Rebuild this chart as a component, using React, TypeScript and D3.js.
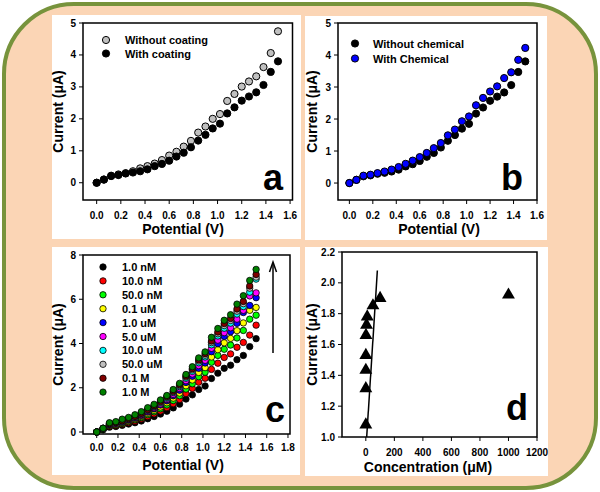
import React from "react";
import * as d3 from "d3";

// ---------- DATA ----------
const potential = [0.0, 0.06, 0.12, 0.18, 0.24, 0.3, 0.36, 0.42, 0.48, 0.54, 0.6, 0.66, 0.72, 0.78, 0.84, 0.9, 0.96, 1.02, 1.08, 1.14, 1.2, 1.26, 1.32, 1.38, 1.44, 1.5];

const aWithoutCoating = [0, 0.1, 0.22, 0.26, 0.3, 0.36, 0.45, 0.52, 0.6, 0.71, 0.85, 0.97, 1.13, 1.31, 1.57, 1.76, 2.0, 2.15, 2.56, 2.78, 3.01, 3.17, 3.33, 3.62, 4.06, 4.74];
const aWithCoating = [0, 0.1, 0.21, 0.24, 0.29, 0.32, 0.36, 0.42, 0.52, 0.59, 0.69, 0.82, 0.94, 1.11, 1.32, 1.5, 1.7, 1.85, 2.17, 2.36, 2.57, 2.7, 2.83, 3.06, 3.47, 3.8];

const bWithoutChemical = [0, 0.1, 0.21, 0.24, 0.29, 0.32, 0.36, 0.42, 0.52, 0.59, 0.69, 0.82, 0.94, 1.11, 1.32, 1.5, 1.7, 1.85, 2.17, 2.36, 2.57, 2.7, 2.83, 3.06, 3.47, 3.8];
const bWithChemical = [0, 0.1, 0.23, 0.26, 0.31, 0.36, 0.42, 0.5, 0.6, 0.7, 0.81, 0.94, 1.09, 1.25, 1.49, 1.67, 1.93, 2.08, 2.43, 2.66, 2.86, 3.02, 3.28, 3.46, 3.85, 4.22];

const cLabels = ["1.0 nM", "10.0 nM", "50.0 nM", "0.1 uM", "1.0 uM", "5.0 uM", "10.0 uM", "50.0 uM", "0.1 M", "1.0 M"];
const cColors = ["#000000", "#ff0000", "#00ff00", "#ffff00", "#0000ff", "#ff00ff", "#00ffff", "#c0c0c0", "#800000", "#008000"];
const c1nM = [0, 0.1, 0.22, 0.25, 0.3, 0.36, 0.42, 0.5, 0.6, 0.7, 0.81, 0.94, 1.09, 1.26, 1.49, 1.68, 1.92, 2.08, 2.42, 2.66, 2.88, 3.02, 3.27, 3.46, 3.86, 4.22];
const c10nM = [0, 0.12, 0.26, 0.29, 0.35, 0.42, 0.49, 0.59, 0.7, 0.82, 0.95, 1.1, 1.28, 1.47, 1.74, 1.97, 2.25, 2.43, 2.83, 3.11, 3.37, 3.53, 3.83, 4.05, 4.38, 4.83];
const c50nM = [0, 0.13, 0.29, 0.33, 0.39, 0.47, 0.55, 0.65, 0.78, 0.91, 1.05, 1.22, 1.42, 1.64, 1.94, 2.18, 2.5, 2.7, 3.15, 3.46, 3.74, 3.93, 4.25, 4.59, 5.1, 5.28];
const c01uM = [0, 0.14, 0.31, 0.35, 0.42, 0.5, 0.59, 0.7, 0.84, 0.98, 1.13, 1.32, 1.53, 1.76, 2.09, 2.35, 2.69, 2.91, 3.39, 3.72, 4.03, 4.23, 4.58, 4.93, 5.5, 5.63];
const c1uM = [0, 0.15, 0.33, 0.38, 0.45, 0.54, 0.63, 0.75, 0.9, 1.05, 1.22, 1.41, 1.64, 1.89, 2.24, 2.52, 2.88, 3.12, 3.63, 3.99, 4.32, 4.53, 4.91, 5.4, 5.72, 6.07];
const c5uM = [0, 0.16, 0.34, 0.39, 0.47, 0.56, 0.66, 0.78, 0.94, 1.09, 1.26, 1.47, 1.7, 1.97, 2.32, 2.62, 3.0, 3.24, 3.78, 4.15, 4.49, 4.71, 5.1, 5.5, 6.15, 6.29];
const c10uM = [0, 0.16, 0.36, 0.41, 0.49, 0.59, 0.68, 0.82, 0.98, 1.14, 1.32, 1.53, 1.78, 2.05, 2.43, 2.74, 3.13, 3.39, 3.94, 4.34, 4.69, 4.92, 5.33, 5.67, 6.32, 6.91];
const c50uM = [0, 0.17, 0.37, 0.42, 0.5, 0.6, 0.7, 0.84, 1.0, 1.17, 1.35, 1.57, 1.82, 2.1, 2.49, 2.81, 3.21, 3.47, 4.04, 4.44, 4.81, 5.04, 5.46, 5.8, 6.5, 7.0];
const c01M = [0, 0.17, 0.38, 0.43, 0.51, 0.61, 0.71, 0.85, 1.02, 1.19, 1.38, 1.6, 1.85, 2.14, 2.53, 2.86, 3.26, 3.54, 4.11, 4.52, 4.9, 5.13, 5.56, 5.9, 6.6, 7.12];
const c1M = [0, 0.17, 0.42, 0.47, 0.58, 0.66, 0.78, 0.92, 1.1, 1.25, 1.45, 1.65, 1.92, 2.2, 2.6, 2.95, 3.35, 3.62, 4.28, 4.68, 5.05, 5.3, 5.78, 6.16, 6.85, 7.35];
const cSeries = [c1nM, c10nM, c50nM, c01uM, c1uM, c5uM, c10uM, c50uM, c01M, c1M];

const dConcentration = [0.001, 0.01, 0.05, 0.1, 1, 5, 10, 50, 100, 1000];
const dCurrent = [1.08, 1.315, 1.434, 1.53, 1.66, 1.727, 1.78, 1.852, 1.9, 1.922];
const dFitConcentration = [6, 81];
const dFitCurrent = [1.0, 2.08];

const ticksPotential16 = [0, 0.2, 0.4, 0.6, 0.8, 1.0, 1.2, 1.4, 1.6];
const ticksPotential18 = [0, 0.2, 0.4, 0.6, 0.8, 1.0, 1.2, 1.4, 1.6, 1.8];
const ticksCurrent5 = [0, 1, 2, 3, 4, 5];
const ticksCurrent8 = [0, 2, 4, 6, 8];
const ticksConcentration = [0, 200, 400, 600, 800, 1000, 1200];
const ticksCurrentD = [1.0, 1.2, 1.4, 1.6, 1.8, 2.0, 2.2];

const FONT = "'Liberation Sans', Arial, Helvetica, sans-serif";

type Box = { l: number; t: number; r: number; b: number };

function Axes(props: {
  box: Box;
  x: d3.ScaleLinear<number, number>;
  y: d3.ScaleLinear<number, number>;
  xTicks: number[];
  yTicks: number[];
  xFmt: (v: number) => string;
  yFmt: (v: number) => string;
  xTitle: string;
  yTitle: string;
  xTitleX: number;
  xTitleY: number;
  yTitleX: number;
  xLabelY: number;
}) {
  const { box, x, y } = props;
  const yMid = (box.t + box.b) / 2;
  return (
    <g fontFamily={FONT} fontWeight="bold" fill="#000">
      <rect x={box.l} y={box.t} width={box.r - box.l} height={box.b - box.t} fill="none" stroke="#000" strokeWidth={1.5} />
      {props.xTicks.map((v) => (
        <g key={"x" + v}>
          <line x1={x(v)} x2={x(v)} y1={box.b} y2={box.b + 4} stroke="#000" strokeWidth={1} />
          <text x={x(v)} y={props.xLabelY} fontSize={10} textAnchor="middle">
            {props.xFmt(v)}
          </text>
        </g>
      ))}
      {props.yTicks.map((v) => (
        <g key={"y" + v}>
          <line x1={box.l - 4} x2={box.l} y1={y(v)} y2={y(v)} stroke="#000" strokeWidth={1} />
          <text x={box.l - 7} y={y(v) + 3.5} fontSize={10} textAnchor="end">
            {props.yFmt(v)}
          </text>
        </g>
      ))}
      <text x={props.xTitleX} y={props.xTitleY} fontSize={14} textAnchor="middle">
        {props.xTitle}
      </text>
      <text transform={`translate(${props.yTitleX},${yMid}) rotate(-90)`} y={5} fontSize={14} textAnchor="middle">
        {props.yTitle}
      </text>
    </g>
  );
}

export default function App() {
  const fmt1 = d3.format(".1f");
  const fmt0 = d3.format("d");

  // Panel a
  const boxA: Box = { l: 83, t: 23, r: 292.5, b: 200 };
  const xA = d3.scaleLinear().domain([-0.113, 1.62]).range([boxA.l, boxA.r]);
  const yA = d3.scaleLinear().domain([-0.54, 5]).range([boxA.b, boxA.t]);

  // Panel b
  const boxB: Box = { l: 338, t: 23, r: 537, b: 200 };
  const xB = d3.scaleLinear().domain([-0.097, 1.6]).range([boxB.l, boxB.r]);
  const yB = d3.scaleLinear().domain([-0.53, 5]).range([boxB.b, boxB.t]);

  // Panel c
  const boxC: Box = { l: 83, t: 255, r: 290, b: 434 };
  const xC = d3.scaleLinear().domain([-0.129, 1.819]).range([boxC.l, boxC.r]);
  const yC = d3.scaleLinear().domain([-0.09, 8]).range([boxC.b, boxC.t]);

  // Panel d
  const boxD: Box = { l: 342, t: 252, r: 537, b: 437 };
  const xD = d3.scaleLinear().domain([-167, 1200]).range([boxD.l, boxD.r]);
  const yD = d3.scaleLinear().domain([1.0, 2.2]).range([boxD.b, boxD.t]);

  const tri = d3.symbol().type(d3.symbolTriangle).size(72)();
  const fitLine = d3
    .line<number>()
    .x((_, i) => xD(dFitConcentration[i]))
    .y((v) => yD(v))(dFitCurrent);

  const rAB = 3.6;
  const rC = 3.2;

  return (
    <svg width={600} height={492} style={{ position: "absolute", left: 0, top: 0, background: "#fff" }}>
      <rect x={4} y={4} width={592} height={484} rx={70} ry={70} fill="#fbd5b5" stroke="#77933c" strokeWidth={4} />
      {/* white panels */}
      <rect x={52} y={15} width={249} height={224} fill="#fff" />
      <rect x={305} y={16} width={242} height={224} fill="#fff" />
      <rect x={52} y={247} width={248} height={228} fill="#fff" />
      <rect x={305} y={247} width={243} height={229} fill="#fff" />

      {/* ---------- Panel a ---------- */}
      <Axes box={boxA} x={xA} y={yA} xTicks={ticksPotential16} yTicks={ticksCurrent5} xFmt={fmt1} yFmt={fmt0}
        xTitle="Potential (V)" yTitle="Current (μA)" xTitleX={183} xTitleY={234} yTitleX={58} xLabelY={218.5} />
      {potential.map((p, i) => (
        <circle key={"aw" + i} cx={xA(p)} cy={yA(aWithoutCoating[i])} r={rAB} fill="#c0c0c0" stroke="#000" strokeWidth={1} />
      ))}
      {potential.map((p, i) => (
        <circle key={"ac" + i} cx={xA(p)} cy={yA(aWithCoating[i])} r={rAB} fill="#000" stroke="#000" strokeWidth={1} />
      ))}
      <g fontFamily={FONT} fontWeight="bold" fontSize={11}>
        <circle cx={106} cy={40} r={rAB} fill="#c0c0c0" stroke="#000" />
        <text x={125} y={44}>Without coating</text>
        <circle cx={106} cy={53.5} r={rAB} fill="#000" stroke="#000" />
        <text x={125} y={57.5}>With coating</text>
        <text x={273} y={190} fontSize={36} textAnchor="middle">a</text>
      </g>

      {/* ---------- Panel b ---------- */}
      <Axes box={boxB} x={xB} y={yB} xTicks={ticksPotential16} yTicks={ticksCurrent5} xFmt={fmt1} yFmt={fmt0}
        xTitle="Potential (V)" yTitle="Current (μA)" xTitleX={439} xTitleY={234} yTitleX={312} xLabelY={218.5} />
      {potential.map((p, i) => (
        <circle key={"bw" + i} cx={xB(p)} cy={yB(bWithoutChemical[i])} r={rAB} fill="#000" stroke="#000" strokeWidth={1} />
      ))}
      {potential.map((p, i) => (
        <circle key={"bc" + i} cx={xB(p)} cy={yB(bWithChemical[i])} r={rAB} fill="#0000ff" stroke="#000" strokeWidth={1} />
      ))}
      <g fontFamily={FONT} fontWeight="bold" fontSize={11}>
        <circle cx={355} cy={43.5} r={rAB} fill="#000" stroke="#000" />
        <text x={373} y={47.5}>Without chemical</text>
        <circle cx={355} cy={58.5} r={rAB} fill="#0000ff" stroke="#000" />
        <text x={373} y={62.5}>With Chemical</text>
        <text x={512} y={190} fontSize={36} textAnchor="middle">b</text>
      </g>

      {/* ---------- Panel c ---------- */}
      <Axes box={boxC} x={xC} y={yC} xTicks={ticksPotential18} yTicks={ticksCurrent8} xFmt={fmt1} yFmt={fmt0}
        xTitle="Potential (V)" yTitle="Current (μA)" xTitleX={183} xTitleY={470} yTitleX={58} xLabelY={450.5} />
      {cSeries.map((s, k) =>
        potential.map((p, i) => (
          <circle key={"c" + k + "_" + i} cx={xC(p)} cy={yC(s[i])} r={rC} fill={cColors[k]} stroke="#000" strokeWidth={0.8} />
        ))
      )}
      <g fontFamily={FONT} fontWeight="bold" fontSize={11}>
        {cLabels.map((lab, k) => (
          <g key={"cl" + k}>
            <circle cx={103} cy={267 + k * 13.9} r={rC} fill={cColors[k]} stroke="#000" strokeWidth={0.8} />
            <text x={122} y={271 + k * 13.9}>{lab}</text>
          </g>
        ))}
        <text x={275} y={422} fontSize={36} textAnchor="middle">c</text>
      </g>
      <line x1={273} x2={273} y1={353} y2={263} stroke="#000" strokeWidth={1.5} />
      <path d="M269.5,272 L273,262 L276.5,272" fill="none" stroke="#000" strokeWidth={1.5} />

      {/* ---------- Panel d ---------- */}
      <Axes box={boxD} x={xD} y={yD} xTicks={ticksConcentration} yTicks={ticksCurrentD} xFmt={fmt0} yFmt={fmt1}
        xTitle="Concentration (μM)" yTitle="Current (μA)" xTitleX={428} xTitleY={472} yTitleX={312} xLabelY={455.5} />
      <path d={fitLine || ""} fill="none" stroke="#000" strokeWidth={1.5} />
      {dConcentration.map((c, i) => (
        <path key={"d" + i} d={tri || ""} transform={`translate(${xD(c)},${yD(dCurrent[i])})`} fill="#000" />
      ))}
      <text x={517} y={420} fontFamily={FONT} fontWeight="bold" fontSize={36} textAnchor="middle">d</text>
    </svg>
  );
}
